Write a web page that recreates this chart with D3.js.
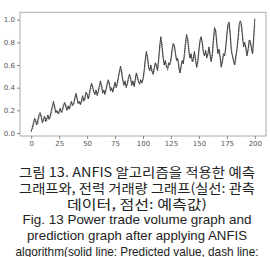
<!DOCTYPE html>
<html>
<head>
<meta charset="utf-8">
<script src="https://cdn.jsdelivr.net/npm/d3@7"></script>
<style>
body{margin:0;background:#fff;}
svg{display:block;}
</style>
</head>
<body>
<div id="chart"></div>
<script>
// observed (solid) and ANFIS predicted (dotted), x = 0..200
var observed = [
 0.01,0.05,0.09,0.13,0.10,0.07,0.12,0.16,0.18,0.14,0.09,0.12,0.15,0.10,0.13,0.16,0.12,0.15,0.20,0.24,0.28,
 0.22,0.18,0.20,0.17,0.19,0.22,0.18,0.21,0.25,0.27,0.23,0.20,0.24,0.21,0.25,0.28,0.24,0.26,0.31,0.35,
 0.30,0.26,0.28,0.25,0.29,0.33,0.28,0.31,0.36,0.34,0.30,0.35,0.40,0.44,0.40,0.36,0.34,0.38,0.33,0.37,
 0.42,0.46,0.40,0.35,0.38,0.34,0.39,0.44,0.47,0.42,0.37,0.40,0.36,0.41,0.45,0.40,0.44,0.50,0.55,0.59,
 0.52,0.46,0.42,0.46,0.40,0.44,0.49,0.52,0.47,0.42,0.46,0.41,0.47,0.53,0.49,0.45,0.43,0.47,0.44,0.48,
 0.55,0.65,0.72,0.66,0.58,0.55,0.60,0.54,0.52,0.57,0.62,0.59,0.55,0.66,0.78,0.85,0.76,0.66,0.60,0.64,
 0.58,0.57,0.62,0.60,0.66,0.74,0.79,0.77,0.70,0.64,0.66,0.58,0.53,0.59,0.64,0.61,0.70,0.80,0.87,0.82,
 0.72,0.66,0.70,0.63,0.66,0.72,0.64,0.58,0.64,0.74,0.82,0.85,0.79,0.71,0.68,0.73,0.66,0.70,0.76,0.68,
 0.63,0.70,0.84,0.93,0.90,0.78,0.70,0.74,0.66,0.58,0.64,0.70,0.68,0.76,0.88,0.96,0.98,0.86,0.72,0.68,
 0.63,0.60,0.68,0.74,0.84,0.96,0.99,0.96,0.84,0.76,0.80,0.74,0.68,0.74,0.82,0.80,0.74,0.70,0.85,1.01
];
var predicted = [
 0.02,0.03,0.06,0.10,0.12,0.09,0.08,0.13,0.16,0.16,0.11,0.10,0.13,0.13,0.11,0.14,0.14,0.13,0.17,0.21,0.25,
 0.25,0.19,0.18,0.19,0.17,0.20,0.20,0.19,0.23,0.26,0.25,0.21,0.22,0.23,0.22,0.26,0.26,0.25,0.29,0.33,
 0.33,0.27,0.26,0.27,0.26,0.30,0.31,0.29,0.34,0.35,0.31,0.32,0.38,0.42,0.42,0.37,0.34,0.36,0.35,0.35,
 0.40,0.44,0.43,0.37,0.36,0.36,0.37,0.42,0.45,0.45,0.38,0.38,0.38,0.39,0.43,0.43,0.42,0.48,0.53,0.56,
 0.56,0.48,0.43,0.44,0.43,0.42,0.47,0.50,0.50,0.44,0.44,0.43,0.44,0.51,0.51,0.46,0.44,0.45,0.46,0.46,
 0.52,0.61,0.69,0.69,0.60,0.55,0.58,0.57,0.51,0.55,0.60,0.61,0.56,0.62,0.73,0.81,0.80,0.68,0.60,0.62,
 0.60,0.55,0.60,0.61,0.63,0.71,0.76,0.78,0.72,0.64,0.65,0.61,0.53,0.56,0.62,0.62,0.66,0.76,0.83,0.84,
 0.76,0.67,0.68,0.66,0.63,0.70,0.67,0.58,0.61,0.70,0.79,0.83,0.82,0.73,0.68,0.71,0.69,0.68,0.74,0.72,
 0.64,0.67,0.78,0.89,0.91,0.82,0.72,0.72,0.69,0.60,0.61,0.68,0.69,0.73,0.84,0.92,0.96,0.90,0.76,0.68,
 0.65,0.60,0.65,0.72,0.80,0.91,0.96,0.96,0.88,0.78,0.78,0.77,0.70,0.72,0.80,0.82,0.76,0.70,0.80,0.95
];
var xTicks = [0,25,50,75,100,125,150,175,200];
var yTicks = [0.0,0.2,0.4,0.6,0.8,1.0];
var captionLines = [
 "그림 13. ANFIS 알고리즘을 적용한 예측",
 "그래프와, 전력 거래량 그래프(실선: 관측",
 "데이터, 점선: 예측값)",
 "Fig. 13 Power trade volume graph and",
 "prediction graph after applying ANFIS",
 "algorithm(solid line: Predicted value, dash line:"
];

var W = 270, H = 257;
var svg = d3.select("#chart").append("svg").attr("width", W).attr("height", H);

var x = d3.scaleLinear().domain([-10, 210]).range([20, 266]);
var y = d3.scaleLinear().domain([-0.0265, 1.065]).range([136, 12.3]);

var line = d3.line()
	.x(function(d, i){ return x(i); })
	.y(function(d){ return y(d); });

svg.append("path")
	.datum(predicted)
	.attr("fill", "none")
	.attr("stroke", "#666")
	.attr("stroke-width", 1)
	.attr("stroke-dasharray", "1,1")
	.attr("d", line);

svg.append("path")
	.datum(observed)
	.attr("fill", "none")
	.attr("stroke", "#333")
	.attr("stroke-width", 0.9)
	.attr("d", line);

// frame
svg.append("rect")
	.attr("x", 20).attr("y", 12.3)
	.attr("width", 246).attr("height", 123.7)
	.attr("fill", "none")
	.attr("stroke", "#aaa")
	.attr("stroke-width", 1);

var gx = svg.append("g")
	.attr("transform", "translate(0,136)")
	.call(d3.axisBottom(x).tickValues(xTicks).tickSize(3).tickPadding(2));
var gy = svg.append("g")
	.attr("transform", "translate(20,0)")
	.call(d3.axisLeft(y).tickValues(yTicks).tickFormat(d3.format(".1f")).tickSize(3).tickPadding(2));

[gx, gy].forEach(function(g){
	g.select(".domain").remove();
	g.selectAll("line").attr("stroke", "#888");
	g.selectAll("text")
		.attr("fill", "#555")
		.style("font-family", "'DejaVu Sans', sans-serif")
		.style("font-size", "7px");
});

var baselines = [176.5, 192.5, 208.5, 224, 240, 256];
var widths = [236, 236, 140, 229, 220, 243];
svg.selectAll("text.cap")
	.data(captionLines)
	.enter()
	.append("text")
	.attr("class", "cap")
	.attr("x", 137)
	.attr("y", function(d, i){ return baselines[i]; })
	.attr("text-anchor", "middle")
	.attr("textLength", function(d, i){ return widths[i]; })
	.attr("lengthAdjust", "spacingAndGlyphs")
	.attr("fill", "#222")
	.style("font-family", function(d, i){ return i < 3 ? "'Noto Sans CJK KR', sans-serif" : "'Liberation Sans', Arial, sans-serif"; })
	.style("font-size", function(d, i){ return i < 3 ? "13px" : "13.5px"; })
	.text(function(d){ return d; });
</script>
</body>
</html>
